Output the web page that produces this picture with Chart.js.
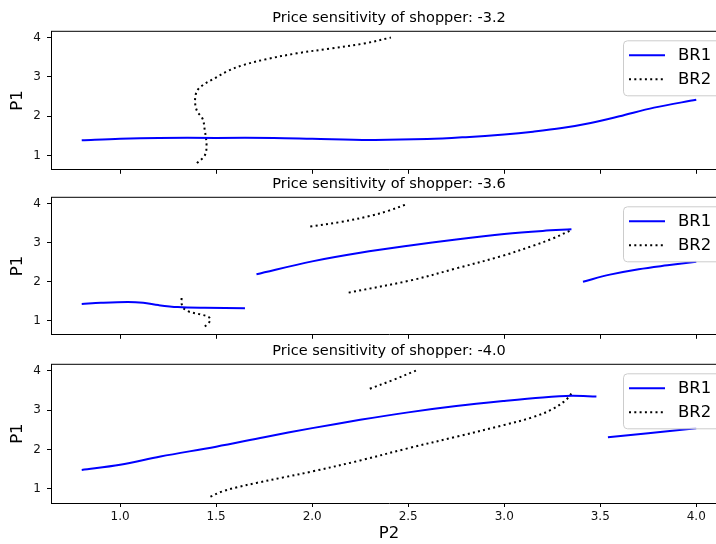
<!DOCTYPE html>
<html>
<head>
<meta charset="utf-8">
<script src="https://cdn.jsdelivr.net/npm/chart.js@4.4.1/dist/chart.umd.min.js"></script>
<style>
  html, body { margin: 0; padding: 0; background: #fff; overflow: hidden; }
  #wrap { position: relative; width: 716px; height: 544px; overflow: hidden; }
  #wrap canvas { position: absolute; left: 0; }
</style>
</head>
<body>
<div id="wrap">
  <canvas id="c1" width="730" height="183" style="top:0px"></canvas>
  <canvas id="c2" width="730" height="182" style="top:166px"></canvas>
  <canvas id="c3" width="730" height="211" style="top:333px"></canvas>
</div>
<script>
"use strict";

// ── Axes ──────────────────────────────────────────────────
const X_TICKS = [1.0, 1.5, 2.0, 2.5, 3.0, 3.5, 4.0];
const Y_TICKS = [1, 2, 3, 4];
const X_MIN = 0.64, X_MAX = 4.16;
const Y_MIN = 0.64, Y_MAX = 4.16;

const TITLES = [
  "Price sensitivity of shopper: -3.2",
  "Price sensitivity of shopper: -3.6",
  "Price sensitivity of shopper: -4.0",
];
const LABELS = ["BR1", "BR2"];

// ── Data: [P2, P1] pairs, one array per curve segment ─────
// sensitivity -3.2
const br1_32 = [[0.8,1.39],[1.0,1.43],[1.2,1.45],[1.5,1.45],[1.8,1.45],[2.0,1.43],[2.3,1.40],
                [2.6,1.42],[2.8,1.47],[3.0,1.54],[3.15,1.61],[3.3,1.70],[3.45,1.83],[3.6,2.00],
                [3.78,2.22],[4.0,2.42]];
const br2_32 = [[1.40,0.81],[1.44,1.0],[1.45,1.25],[1.44,1.67],[1.43,1.93],[1.40,2.14],[1.39,2.39],
                [1.40,2.64],[1.43,2.79],[1.49,2.96],[1.56,3.15],[1.64,3.30],[1.76,3.45],[1.92,3.60],
                [2.09,3.72],[2.27,3.85],[2.41,4.0]];

// sensitivity -3.6
const br1_36a = [[0.8,1.43],[0.9,1.46],[1.04,1.48],[1.12,1.46],[1.2,1.40],[1.3,1.35],[1.44,1.33],[1.65,1.32]];
const br1_36b = [[1.71,2.19],[2.0,2.52],[2.25,2.74],[2.5,2.92],[2.75,3.08],[3.0,3.22],[3.2,3.30],[3.35,3.34]];
const br1_36c = [[3.41,2.0],[3.55,2.18],[3.7,2.32],[3.85,2.42],[4.0,2.51]];
const br2_36a = [[1.99,3.41],[2.15,3.53],[2.3,3.68],[2.4,3.82],[2.49,3.98]];
const br2_36b = [[2.19,1.72],[2.52,2.04],[2.75,2.34],[2.99,2.66],[3.15,2.92],[3.25,3.10],[3.34,3.30]];
const br2_36c = [[1.32,1.58],[1.32,1.44],[1.33,1.32],[1.36,1.23],[1.42,1.16],[1.46,1.10],[1.47,1.03],
                 [1.46,0.94],[1.43,0.81]];

// sensitivity -4.0
const br1_40a = [[0.8,1.48],[1.0,1.61],[1.21,1.82],[1.5,2.07],[1.75,2.31],[2.0,2.54],[2.25,2.75],
                 [2.5,2.94],[2.75,3.10],[3.0,3.23],[3.2,3.32],[3.35,3.36],[3.48,3.34]];
const br1_40b = [[3.54,2.31],[3.75,2.41],[4.0,2.54]];
const br2_40a = [[2.30,3.54],[2.42,3.76],[2.54,4.0]];
const br2_40b = [[1.47,0.80],[1.53,0.93],[1.61,1.04],[1.71,1.15],[1.85,1.29],[2.0,1.44],[2.25,1.72],
                 [2.5,2.03],[2.75,2.32],[3.0,2.62],[3.15,2.82],[3.25,3.02],[3.32,3.25],[3.36,3.48]];

// ── Styles ────────────────────────────────────────────────
Chart.defaults.font.family = "'DejaVu Sans', sans-serif";
Chart.defaults.color = "#000";

const BLUE = "#0000ff";
const DOT_DASH = [2, 3.3];

// frame (top/right spines), title and an in-plot legend
const panelDeco = {
  id: "panelDeco",
  afterDatasetsDraw(chart, args, opts) {
    const { ctx, chartArea: a } = chart;
    ctx.save();
    ctx.strokeStyle = "#000";
    ctx.lineWidth = 1;
    ctx.beginPath();
    ctx.moveTo(a.left, a.top);
    ctx.lineTo(a.right, a.top);
    ctx.lineTo(a.right, a.bottom);
    ctx.stroke();

    // title
    ctx.fillStyle = "#000";
    ctx.font = "14.5px 'DejaVu Sans'";
    ctx.textAlign = "center";
    ctx.textBaseline = "alphabetic";
    ctx.fillText(opts.title, (a.left + a.right) / 2, a.top - 9);

    // legend box
    const bx = 623.5, by = a.top + 9.5, bw = 120, bh = 55, r = 4;
    ctx.beginPath();
    ctx.roundRect(bx, by, bw, bh, r);
    ctx.fillStyle = "rgba(255,255,255,0.8)";
    ctx.fill();
    ctx.strokeStyle = "#cccccc";
    ctx.stroke();

    const rows = [by + 14.5, by + 38.5];
    ctx.lineWidth = 2;
    ctx.strokeStyle = BLUE;
    ctx.beginPath();
    ctx.moveTo(629, rows[0]);
    ctx.lineTo(665, rows[0]);
    ctx.stroke();
    ctx.strokeStyle = "#000";
    ctx.setLineDash(DOT_DASH);
    ctx.beginPath();
    ctx.moveTo(629, rows[1]);
    ctx.lineTo(665, rows[1]);
    ctx.stroke();
    ctx.setLineDash([]);

    ctx.fillStyle = "#000";
    ctx.font = "16.5px 'DejaVu Sans'";
    ctx.textAlign = "left";
    ctx.textBaseline = "middle";
    ctx.fillText(LABELS[0], 678, rows[0]);
    ctx.fillText(LABELS[1], 678, rows[1]);
    ctx.restore();
  },
};

// ── Panel factory ─────────────────────────────────────────
function toPoints(seg) {
  return seg.map(p => ({ x: p[0], y: p[1] }));
}

function makePanel(id, title, br1Segs, br2Segs, padTop, xHeight, showX) {
  const datasets = [];
  br1Segs.forEach(seg => datasets.push({
    data: toPoints(seg),
    showLine: true,
    borderColor: BLUE,
    borderWidth: 2,
    pointRadius: 0,
    tension: 0.35,
  }));
  br2Segs.forEach(seg => datasets.push({
    data: toPoints(seg),
    showLine: true,
    borderColor: "#000",
    borderWidth: 2,
    borderDash: DOT_DASH,
    pointRadius: 0,
    tension: 0.35,
  }));

  return new Chart(document.getElementById(id), {
    type: "scatter",
    data: { datasets },
    options: {
      responsive: false,
      animation: false,
      events: [],
      layout: { padding: { top: padTop, right: 3, left: 0, bottom: 0 } },
      plugins: {
        legend: { display: false },
        tooltip: { enabled: false },
        panelDeco: { title },
      },
      scales: {
        x: {
          type: "linear",
          min: X_MIN,
          max: X_MAX,
          afterBuildTicks: s => { s.ticks = X_TICKS.map(v => ({ value: v })); },
          afterFit: s => { s.height = xHeight; },
          grid: { drawOnChartArea: false, tickLength: 4, color: "#000" },
          border: { color: "#000", width: 1 },
          ticks: {
            display: showX,
            padding: 3,
            color: "#111",
            font: { size: 12 },
            callback: v => Number(v).toFixed(1),
          },
          title: {
            display: showX,
            text: "P2",
            font: { size: 16.5 },
            padding: { top: 0, bottom: 0 },
          },
        },
        y: {
          type: "linear",
          min: Y_MIN,
          max: Y_MAX,
          afterBuildTicks: s => { s.ticks = Y_TICKS.map(v => ({ value: v })); },
          afterFit: s => { s.width = 51; },
          grid: { drawOnChartArea: false, tickLength: 4, color: "#000" },
          border: { color: "#000", width: 1 },
          ticks: {
            padding: 6,
            color: "#111",
            font: { size: 12 },
            callback: v => String(v),
          },
          title: {
            display: true,
            text: "P1",
            font: { size: 16.5 },
            padding: { top: 8, bottom: 0 },
          },
        },
      },
    },
    plugins: [panelDeco],
  });
}

// ── Build ─────────────────────────────────────────────────
makePanel("c1", TITLES[0], [br1_32], [br2_32], 31.3, 12.5, false);
makePanel("c2", TITLES[1], [br1_36a, br1_36b, br1_36c], [br2_36a, br2_36b, br2_36c], 31.3, 12, false);
makePanel("c3", TITLES[2], [br1_40a, br1_40b], [br2_40a, br2_40b], 31.3, 41, true);
</script>
</body>
</html>
